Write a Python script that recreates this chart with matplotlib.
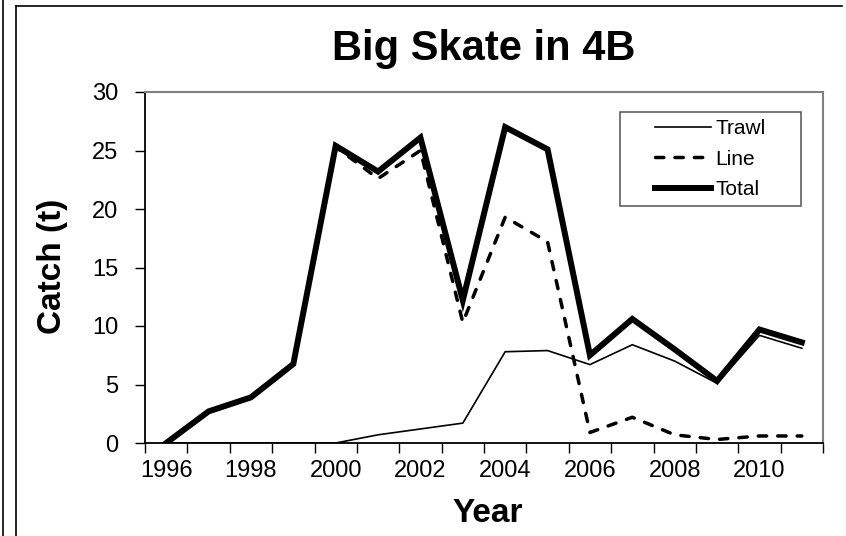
import matplotlib
matplotlib.use("Agg")
import matplotlib.pyplot as plt
from matplotlib.lines import Line2D
from matplotlib.patches import Rectangle
import numpy as np

plt.rcParams['font.family'] = ['Liberation Sans', 'DejaVu Sans']

years = [1996, 1997, 1998, 1999, 2000, 2001, 2002, 2003, 2004, 2005, 2006, 2007, 2008, 2009, 2010, 2011]
trawl = [0, 0, 0, 0, 0, 0.7, 1.2, 1.7, 7.8, 7.9, 6.7, 8.4, 7.0, 5.1, 9.2, 8.1]
line = [0, 2.7, 3.9, 6.75, 25.3, 22.6, 25.0, 10.3, 19.3, 17.2, 0.9, 2.2, 0.7, 0.3, 0.6, 0.6]
total = [0, 2.7, 3.9, 6.75, 25.4, 23.2, 26.1, 12.2, 27.0, 25.1, 7.5, 10.6, 8.0, 5.3, 9.7, 8.6]
year_labels = ['1996', '1998', '2000', '2002', '2004', '2006', '2008', '2010']

W, H = 846, 536
fig = plt.figure(figsize=(W / 100, H / 100), dpi=100)
ax = fig.add_axes([145 / W, (H - 443) / H, (823 - 145) / W, (443 - 92) / H])

n = len(years)
xs = np.arange(n) + 0.5
ax.plot(xs, trawl, color='black', lw=1.2, label='Trawl', solid_joinstyle='miter')
ax.plot(xs, line, color='black', lw=2.5, linestyle=(0, (2.4, 3.2)),
        dash_capstyle='round', label='Line')
ax.plot(xs, total, color='black', lw=4.3, label='Total', solid_joinstyle='miter')

ax.set_xlim(0, n)
ax.set_ylim(0, 30)
ax.set_yticks(np.arange(0, 31, 5))
ax.set_xticks(np.arange(0, n + 1))
ax.set_xticklabels([])
ax.set_xticks(np.arange(0, n, 2) + 0.5, minor=True)
ax.set_xticklabels(year_labels, minor=True)
ax.tick_params(axis='x', which='major', direction='out', length=7, width=1, color='black')
ax.tick_params(axis='x', which='minor', length=0, labelsize=17, pad=12)
ax.tick_params(axis='y', direction='out', length=7, width=1, labelsize=17, pad=12)

for s in ['top', 'right']:
    ax.spines[s].set_color('#808080')
    ax.spines[s].set_linewidth(1.5)
for s in ['left', 'bottom']:
    ax.spines[s].set_color('black')
    ax.spines[s].set_linewidth(1.3)

fig.text(484 / W, (H - 49) / H, 'Big Skate in 4B', fontsize=30, fontweight='bold',
         ha='center', va='center')
fig.text(488 / W, (H - 513) / H, 'Year', fontsize=24, fontweight='bold',
         ha='center', va='center')
fig.text(53 / W, (H - 266) / H, 'Catch (t)', fontsize=24, fontweight='bold',
         ha='center', va='center', rotation=90)

# legend (frame drawn separately)
axw, axh = 823 - 145, 443 - 92
leg = ax.legend(loc='upper left', bbox_to_anchor=((655 - 145) / axw, (443 - 119) / axh),
                fontsize=15, frameon=False, handlelength=2.7,
                handletextpad=0.2, labelspacing=0.56, borderpad=0, borderaxespad=0)
fig.add_artist(Rectangle((620 / W, (H - 206) / H), (801 - 620) / W, (206 - 112) / H,
                         transform=fig.transFigure, fill=False, edgecolor='#606060', lw=1.2))

# outer frame lines
fig.add_artist(Line2D([3 / W, 3 / W], [0, 1], transform=fig.transFigure, color='black', lw=1.2))
fig.add_artist(Line2D([16 / W, 16 / W], [0, (H - 6) / H], transform=fig.transFigure, color='black', lw=1.2))
fig.add_artist(Line2D([16 / W, 842 / W], [(H - 6) / H, (H - 6) / H], transform=fig.transFigure, color='black', lw=1.2))

fig.savefig('out.png', dpi=100)
